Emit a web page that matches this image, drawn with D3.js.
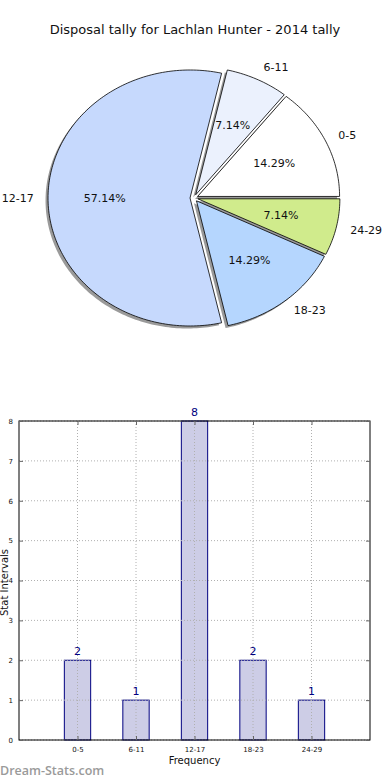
<!DOCTYPE html>
<html><head><meta charset="utf-8">
<script src="https://cdn.jsdelivr.net/npm/d3@7/dist/d3.min.js"></script>
<style>body{margin:0;background:#fff;}svg{display:block;font-family:"DejaVu Sans",sans-serif;}</style>
</head><body>
<svg id="c" width="390" height="780"></svg>
<script>
const title = "Disposal tally for Lachlan Hunter - 2014 tally";
const categories = ["0-5","6-11","12-17","18-23","24-29"];
const values = [2,1,8,2,1];
const pieColors = ["#ffffff","#ebf1fd","#c6d9fd","#b5d6fe","#d0eb8c"];
const yTicks = [0,1,2,3,4,5,6,7,8];
const xLabel = "Frequency";
const yLabel = "Stat Intervals";
const watermark = "Dream-Stats.com";

const svg = d3.select("#c");
svg.append("text").attr("x",195).attr("y",34).attr("text-anchor","middle")
  .attr("font-size",13).attr("fill","#111").text(title);

// ---- Pie (elliptical, matplotlib style) ----
const cx = 194, cy = 198, rx = 142, ry = 128, explode = 0.028;
const total = d3.sum(values);
const angScale = d3.scaleLinear().domain([0,total]).range([0, 2*Math.PI]);
let acc = 0;
const slices = values.map((v,i)=>{ const a0 = angScale(acc); acc += v; const a1 = angScale(acc); return {i,v,a0,a1}; });

function wedgePath(ox, oy, a0, a1){
  const n = Math.max(8, Math.ceil((a1-a0)/0.02));
  const pts = [[ox,oy]];
  for(let k=0;k<=n;k++){ const a = a0 + (a1-a0)*k/n; pts.push([ox + rx*Math.cos(a), oy - ry*Math.sin(a)]); }
  return d3.line()(pts) + "Z";
}
const pieG = svg.append("g");
slices.forEach(s=>{
  const m = (s.a0+s.a1)/2;
  const ox = cx + explode*rx*Math.cos(m), oy = cy - explode*ry*Math.sin(m);
  pieG.append("path").attr("d", wedgePath(ox-2.5, oy+2.5, s.a0, s.a1))
    .attr("fill","#888").attr("opacity",0.85);
});
slices.forEach(s=>{
  const m = (s.a0+s.a1)/2;
  const ox = cx + explode*rx*Math.cos(m), oy = cy - explode*ry*Math.sin(m);
  pieG.append("path").attr("d", wedgePath(ox, oy, s.a0, s.a1))
    .attr("fill", pieColors[s.i]).attr("stroke","#000").attr("stroke-width",0.8).attr("stroke-linejoin","round");
  const px = ox + 0.6*rx*Math.cos(m), py = oy - 0.6*ry*Math.sin(m);
  pieG.append("text").attr("x",px).attr("y",py).attr("text-anchor","middle").attr("dominant-baseline","central")
    .attr("font-size",11).attr("fill","#111").text((s.v/total*100).toFixed(2)+"%");
  const lx = ox + 1.1*rx*Math.cos(m), ly = oy - 1.1*ry*Math.sin(m);
  pieG.append("text").attr("x",lx).attr("y",ly).attr("text-anchor", Math.cos(m)>=0 ? "start":"end")
    .attr("dominant-baseline","central").attr("font-size",11).attr("fill","#111").text(categories[s.i]);
});

// ---- Bar chart ----
const L = 19, R = 370, T = 421, B = 740;
const x = d3.scaleLinear().domain([-1, categories.length]).range([L, R]);
const y = d3.scaleLinear().domain([0, 8]).range([B, T]);
const bw = 0.45;
const bg = svg.append("g");
bg.selectAll("rect.bar").data(values).join("rect").attr("class","bar")
  .attr("x",(d,i)=>x(i-bw/2)).attr("width",x(bw)-x(0))
  .attr("y",d=>y(d)).attr("height",d=>B-y(d))
  .attr("fill","#cdcde6").attr("stroke","#000080").attr("stroke-width",1);
bg.selectAll("line.gy").data(yTicks).join("line").attr("class","gy")
  .attr("x1",L).attr("x2",R).attr("y1",d=>y(d)).attr("y2",d=>y(d))
  .attr("stroke","#b0b0b0").attr("stroke-width",1).attr("stroke-dasharray","1,2");
bg.selectAll("line.gx").data(categories).join("line").attr("class","gx")
  .attr("x1",(d,i)=>x(i)).attr("x2",(d,i)=>x(i)).attr("y1",T).attr("y2",B)
  .attr("stroke","#b0b0b0").attr("stroke-width",1).attr("stroke-dasharray","1,2");
bg.append("rect").attr("x",L).attr("y",T).attr("width",R-L).attr("height",B-T)
  .attr("fill","none").attr("stroke","#000").attr("stroke-width",1);
const yAxis = d3.axisLeft(y).tickValues(yTicks).tickSize(-4).tickPadding(6).tickFormat(d3.format("d"));
const gy = bg.append("g").attr("transform",`translate(${L},0)`).call(yAxis);
gy.select(".domain").remove();
gy.selectAll("text").attr("font-size",7).attr("fill","#111").attr("font-family","DejaVu Sans");
gy.selectAll("line").attr("stroke","#666");
const yAxisR = d3.axisRight(y).tickValues(yTicks).tickSize(-4).tickFormat("");
const gyr = bg.append("g").attr("transform",`translate(${R},0)`).call(yAxisR);
gyr.select(".domain").remove(); gyr.selectAll("line").attr("stroke","#666");
const xAxis = d3.axisBottom(x).tickValues(d3.range(categories.length)).tickSize(-4).tickPadding(7)
  .tickFormat(i=>categories[i]);
const gx = bg.append("g").attr("transform",`translate(0,${B})`).call(xAxis);
gx.select(".domain").remove();
gx.selectAll("text").attr("font-size",7).attr("fill","#111").attr("font-family","DejaVu Sans");
gx.selectAll("line").attr("stroke","#666");
const xAxisT = d3.axisTop(x).tickValues(d3.range(categories.length)).tickSize(-4).tickFormat("");
const gxt = bg.append("g").attr("transform",`translate(0,${T})`).call(xAxisT);
gxt.select(".domain").remove(); gxt.selectAll("line").attr("stroke","#666");
bg.selectAll("text.val").data(values).join("text").attr("class","val")
  .attr("x",(d,i)=>x(i)).attr("y",d=>y(d)-5).attr("text-anchor","middle")
  .attr("font-size",11).attr("fill","#000080").text(d=>d);
svg.append("text").attr("x",(L+R)/2).attr("y",764).attr("text-anchor","middle")
  .attr("font-size",10).attr("fill","#111").text(xLabel);
svg.append("text").attr("transform",`translate(8,${(T+B)/2+2}) rotate(-90)`).attr("text-anchor","middle")
  .attr("font-size",10).attr("fill","#111").text(yLabel);
svg.append("text").attr("x",0).attr("y",775).attr("font-size",12.5)
  .attr("font-family","'Open Sans',sans-serif").attr("font-weight",600)
  .attr("fill","#9a9a9a").text(watermark);
</script>
</body></html>
